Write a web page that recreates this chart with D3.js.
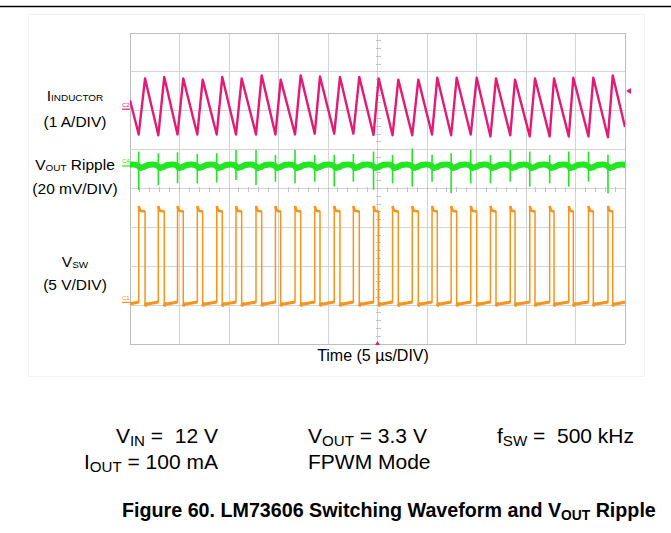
<!DOCTYPE html>
<html><head><meta charset="utf-8">
<script src="https://cdn.jsdelivr.net/npm/d3@7/dist/d3.min.js"></script>
<style>
body{margin:0;background:#fff;}
svg{display:block;font-family:"Liberation Sans",Arial,Helvetica,sans-serif;}
</style></head><body>
<svg id="chart" width="671" height="533"></svg>
<script>
// ================= DATA =================
// horizontal: time in µs (5 µs/DIV, 10 DIV); vertical: screen divisions (8 DIV)
const timeDomain = [-25, 25];
const divDomain = [-4, 4];
const xGridTicks = [-25, -20, -15, -10, -5, 0, 5, 10, 15, 20, 25];
const yGridTicks = [-4, -3, -2, -1, 0, 1, 2, 3, 4];

// channels: inductor current, VOUT ripple, switch node
const channelNames   = ["C2", "C4", "C1"];
const channelOffsets = [2.04, 0.58, -2.93];   // ground marker position (DIV)
const channelScales  = [1, 20, 5];            // A/DIV, mV/DIV, V/DIV
const channelColors  = ["#e31b74", "#22e622", "#f7941d"];
const triggerLevel = [0.47];                  // A (C2)

// SW rising edges = inductor current valleys (µs)
const edgeTimes = [-24.12, -22.14, -20.20, -18.20, -16.24, -14.29, -12.27, -10.31, -8.33, -6.34,
  -4.37, -2.44, -0.40, 1.52, 3.51, 5.51, 7.44, 9.42, 11.41, 13.41, 15.38, 17.39, 19.32, 21.31, 23.28];
// SW falling edges = inductor current peaks (µs)
const peakTimes = [-23.48, -21.54, -19.62, -17.66, -15.68, -13.72, -11.70, -9.78, -7.76, -5.81,
  -3.79, -1.84, 0.12, 2.10, 4.12, 6.04, 8.00, 10.02, 11.97, 13.89, 15.91, 17.83, 19.78, 21.80, 23.76];

// inductor current (A)
const currentValleys = [-0.65, -0.67, -0.65, -0.65, -0.65, -0.65, -0.65, -0.65, -0.65, -0.63,
  -0.63, -0.63, -0.66, -0.67, -0.67, -0.65, -0.67, -0.65, -0.70, -0.67, -0.70, -0.70, -0.70, -0.70, -0.72];
const currentPeaks = [0.79, 0.83, 0.79, 0.76, 0.83, 0.79, 0.87, 0.76, 0.87, 0.84,
  0.83, 0.83, 0.79, 0.76, 0.76, 0.81, 0.81, 0.81, 0.79, 0.76, 0.79, 0.79, 0.81, 0.81, 0.87];
const currentAtEdges = [0.23, -0.46];         // value at left / right screen edge

// VOUT ripple (mV): switching spikes and in-cycle ripple shape
const spikeHigh = [7.4, 6.5, 7.0, 6.2, 6.5, 8.2, 8.2, 5.7, 8.2, 5.7, 5.7, 6.2, 7.4,
  5.7, 9.0, 5.7, 6.5, 8.2, 5.7, 8.2, 7.4, 5.7, 7.4, 7.4, 5.7];
const spikeLow = [-12.3, -9.8, -8.9, -8.9, -8.5, -7.2, -9.8, -8.1, -8.9, -8.1, -10.6, -8.1, -12.3,
  -8.9, -10.6, -8.1, -14.0, -8.9, -8.9, -8.1, -10.6, -8.9, -10.6, -8.1, -14.0];
const ripplePhase = [0.00, 0.15, 0.45, 0.95, 1.45, 1.85];   // µs after SW rising edge
const rippleMv    = [-0.2, -1.0, -0.6, 0.5, 0.8, 0.3];

// switch node (V)
const swHighPhase = [0.00, 0.06, 0.15];   // µs after rising edge
const swHighVolts = [12.4, 12.1, 11.8];
const swHighEnd = [11.7];                 // at falling edge
const swLowPhase = [0.00, 0.10, 0.30];    // µs after falling edge
const swLowVolts = [-0.5, -0.2, -0.2];
const swLowEnd = [0.05];                  // just before next rising edge

// texts
const timeLabel = "Time (5 µs/DIV)";

// ================= LAYOUT =================
const svg = d3.select("#chart");
const L = 130, R = 625, T = 33, B = 344;
const x = d3.scaleLinear().domain(timeDomain).range([L, R]);
const y = d3.scaleLinear().domain(divDomain).range([B, T]);
const chY = (ch, v) => y(channelOffsets[ch] + v / channelScales[ch]);

// page rule + faint frame
svg.append("line").attr("x1", 0).attr("x2", 671).attr("y1", 6.5).attr("y2", 6.5)
  .attr("stroke", "#000").attr("stroke-width", 1.5);
svg.append("rect").attr("x", 28.5).attr("y", 14.5).attr("width", 616).attr("height", 362)
  .attr("fill", "none").attr("stroke", "#f3f3f3");

// grid
const grid = svg.append("g").attr("shape-rendering", "crispEdges");
grid.selectAll(".vg").data(xGridTicks).join("line")
  .attr("x1", d => x(d)).attr("x2", d => x(d)).attr("y1", y(-4)).attr("y2", y(4))
  .attr("stroke", d => (d === -25 || d === 25) ? "#bdbdbd" : "#d4d4d4");
grid.selectAll(".hg").data(yGridTicks).join("line")
  .attr("y1", d => y(d)).attr("y2", d => y(d)).attr("x1", x(-25)).attr("x2", x(25))
  .attr("stroke", d => (d === -4 || d === 4) ? "#bdbdbd" : "#d4d4d4");
// minor ticks along centre lines
const yMinor = d3.range(-4, 4.001, 0.2);
const xMinor = d3.range(-25, 25.001, 1);
grid.selectAll(".ym").data(yMinor).join("line")
  .attr("x1", x(0) - 2).attr("x2", x(0) + 3).attr("y1", d => y(d)).attr("y2", d => y(d))
  .attr("stroke", "#c4c4c4");
grid.selectAll(".xm").data(xMinor).join("line")
  .attr("y1", y(0) - 2).attr("y2", y(0) + 3).attr("x1", d => x(d)).attr("x2", d => x(d))
  .attr("stroke", "#c4c4c4");

// clip
svg.append("clipPath").attr("id", "plotclip").append("rect")
  .attr("x", L).attr("y", T).attr("width", R - L).attr("height", B - T);
const traces = svg.append("g").attr("clip-path", "url(#plotclip)");
const line = d3.line().x(d => x(d[0])).y(d => d[1]);

// ---- switch node (orange) ----
const swCh = 2;
const lowSegs = [], highSegs = [], swAll = [];
lowSegs.push([[timeDomain[0], swLowVolts[2]], [edgeTimes[0], swLowEnd[0]]]);
edgeTimes.forEach((te, i) => {
  const tf = peakTimes[i];
  const tn = i + 1 < edgeTimes.length ? edgeTimes[i + 1] : timeDomain[1];
  const hi = swHighPhase.map((p, j) => [te + p, swHighVolts[j]]).concat([[tf, swHighEnd[0]]]);
  const lo = swLowPhase.map((p, j) => [tf + p, swLowVolts[j]]).concat([[tn, swLowEnd[0]]]);
  highSegs.push(hi); lowSegs.push(lo);
});
lowSegs.forEach((s, i) => { swAll.push(...s); if (i < highSegs.length) swAll.push(...highSegs[i]); });
traces.append("path")
  .attr("d", line(swAll.map(d => [d[0], chY(swCh, d[1])])))
  .attr("fill", "none").attr("stroke", channelColors[swCh]).attr("stroke-width", 1.5);
traces.selectAll(".swlo").data(lowSegs).join("path")
  .attr("d", s => line(s.map(d => [d[0], chY(swCh, d[1])])))
  .attr("fill", "none").attr("stroke", channelColors[swCh]).attr("stroke-width", 3.2)
  .attr("stroke-linejoin", "round");
traces.selectAll(".swhi").data(highSegs).join("path")
  .attr("d", s => line(s.map(d => [d[0], chY(swCh, d[1])])))
  .attr("fill", "none").attr("stroke", channelColors[swCh]).attr("stroke-width", 2.6)
  .attr("stroke-linejoin", "round");

// ---- VOUT ripple (green) ----
const gCh = 1;
const period0 = edgeTimes[1] - edgeTimes[0];
const cycleStarts = [edgeTimes[0] - period0].concat(edgeTimes);
const ripplePts = [];
cycleStarts.forEach(te => ripplePhase.forEach((p, j) => ripplePts.push([te + p, rippleMv[j]])));
traces.append("path")
  .attr("d", d3.line().x(d => x(d[0])).y(d => chY(gCh, d[1])).curve(d3.curveCatmullRom)(ripplePts))
  .attr("fill", "none").attr("stroke", channelColors[gCh]).attr("stroke-width", 6)
  .attr("stroke-linejoin", "round");
traces.selectAll(".spk").data(edgeTimes).join("line")
  .attr("x1", d => x(d)).attr("x2", d => x(d))
  .attr("y1", (d, i) => chY(gCh, spikeHigh[i])).attr("y2", (d, i) => chY(gCh, spikeLow[i]))
  .attr("stroke", channelColors[gCh]).attr("stroke-width", 1.6);

// ---- inductor current (magenta) ----
const iCh = 0;
const iPts = [[timeDomain[0], currentAtEdges[0]]];
edgeTimes.forEach((te, i) => { iPts.push([te, currentValleys[i]]); iPts.push([peakTimes[i], currentPeaks[i]]); });
iPts.push([timeDomain[1], currentAtEdges[1]]);
traces.append("path")
  .attr("d", line(iPts.map(d => [d[0], chY(iCh, d[1])])))
  .attr("fill", "none").attr("stroke", channelColors[iCh]).attr("stroke-width", 2.4)
  .attr("stroke-linejoin", "round");

// ---- channel ground markers ----
channelNames.forEach((n, c) => {
  const yy = chY(c, 0);
  svg.append("line").attr("x1", 122).attr("x2", 130).attr("y1", yy).attr("y2", yy)
    .attr("stroke", channelColors[c]).attr("stroke-width", 1.2);
  svg.append("text").attr("x", 122).attr("y", yy - 2.5).attr("font-size", 6)
    .attr("fill", channelColors[c]).text(n);
});
// trigger level marker (right) and trigger position (bottom)
const ty = chY(0, triggerLevel[0]);
svg.append("path").attr("d", `M${R + 1},${ty} L${R + 6},${ty - 3} L${R + 6},${ty + 3} Z`)
  .attr("fill", channelColors[0]);
svg.append("path").attr("d", `M${x(0)},${B - 3} L${x(0) - 2.5},${B + 1} L${x(0) + 2.5},${B + 1} Z`)
  .attr("fill", channelColors[0]);

// ================= TEXT =================
function rich(x0, y0, parts, size, opts = {}) {
  const t = svg.append("text").attr("x", x0).attr("y", y0).attr("font-size", size)
    .attr("text-anchor", opts.anchor || "start").attr("font-weight", opts.weight || "normal")
    .attr("fill", "#000").style("white-space", "pre");
  const subSize = size * (opts.subScale || 0.68), shift = opts.subShift || 1.5;
  let shifted = false;
  parts.forEach(p => {
    const ts = t.append("tspan").text(p[0]);
    if (p[1]) { ts.attr("font-size", subSize); if (!shifted) { ts.attr("dy", shift); shifted = true; } }
    else if (shifted) { ts.attr("dy", -shift); shifted = false; }
  });
  return t;
}
// left labels
rich(75, 100.5, [["I"], ["INDUCTOR", 1]], 15.5, { anchor: "middle", subScale: 0.64, subShift: 0.5 });
rich(75, 127, [["(1 A/DIV)"]], 15.5, { anchor: "middle" });
rich(75, 170, [["V"], ["OUT", 1], [" Ripple"]], 15.5, { anchor: "middle", subScale: 0.64, subShift: 1 });
rich(75, 194, [["(20 mV/DIV)"]], 15.5, { anchor: "middle" });
rich(75, 267, [["V"], ["SW", 1]], 15.5, { anchor: "middle", subScale: 0.64, subShift: 1 });
rich(75, 290, [["(5 V/DIV)"]], 15.5, { anchor: "middle" });
// time label
rich(373, 361, [[timeLabel]], 16, { anchor: "middle" });
// conditions
rich(218, 443, [["V"], ["IN", 1], [" =  12 V"]], 21, { anchor: "end", subScale: 0.72, subShift: 2.5 });
rich(218, 469, [["I"], ["OUT", 1], [" = 100 mA"]], 21, { anchor: "end", subScale: 0.72, subShift: 2.5 });
rich(308, 443, [["V"], ["OUT", 1], [" = 3.3 V"]], 21, { subScale: 0.72, subShift: 2.5 });
rich(308, 469, [["FPWM Mode"]], 21);
rich(497, 443, [["f"], ["SW", 1], [" =  500 kHz"]], 21, { subScale: 0.72, subShift: 2.5 });
// caption
rich(122, 517, [["Figure 60. LM73606 Switching Waveform and V"], ["OUT", 1], [" Ripple"]], 19.7,
  { weight: "bold", subScale: 0.7, subShift: 2.5 });
</script>
</body></html>
